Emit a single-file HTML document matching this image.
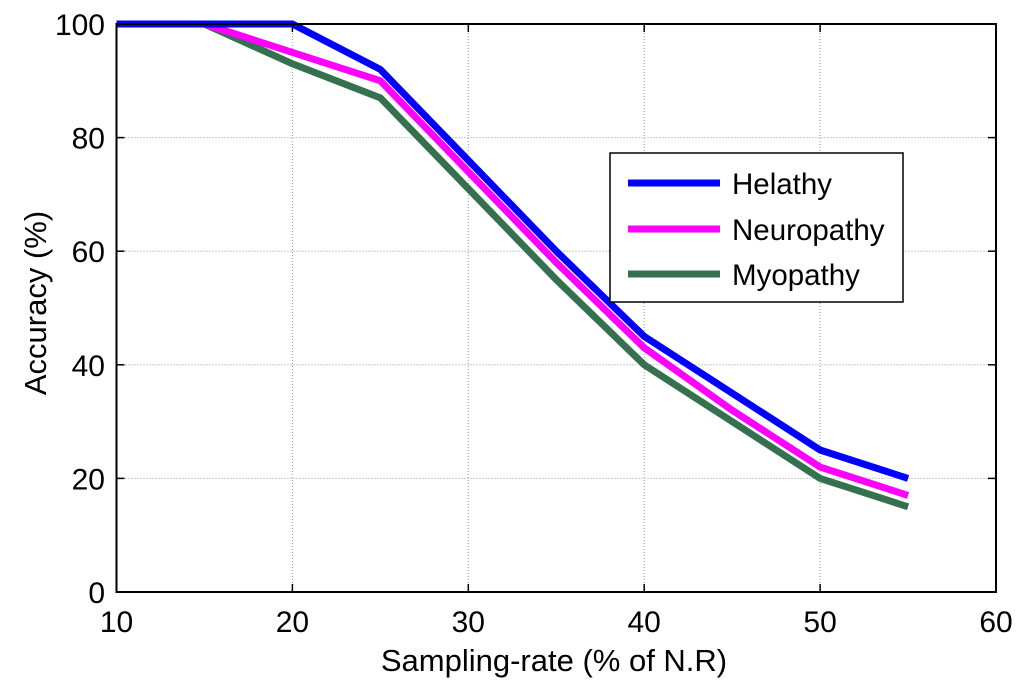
<!DOCTYPE html>
<html><head><meta charset="utf-8"><style>
body{margin:0;background:#fff}
text{font-family:"Liberation Sans",sans-serif;fill:#000}
</style></head><body>
<svg id="chart" width="1024" height="691" viewBox="0 0 1024 691" xmlns="http://www.w3.org/2000/svg">
<rect width="1024" height="691" fill="#fff"/>
<g id="grid"></g>
<g id="series"></g>
<rect x="116.5" y="24" width="879.5" height="568" fill="none" stroke="#000" stroke-width="2"/>
<g id="ticks"></g>
<text x="554" y="671" font-size="31" text-anchor="middle">Sampling-rate (% of N.R)</text>
<text transform="translate(46,303) rotate(-90)" font-size="31" text-anchor="middle">Accuracy (%)</text>
<g>
<rect x="610" y="153" width="293" height="149" fill="#fff" stroke="#000" stroke-width="1.5"/>
<line x1="628" y1="183" x2="720" y2="183" stroke="#0000ff" stroke-width="7"/>
<text x="732" y="194" font-size="29.5">Helathy</text>
<line x1="628" y1="229" x2="720" y2="229" stroke="#ff00ff" stroke-width="7"/>
<text x="732" y="240" font-size="29.5">Neuropathy</text>
<line x1="628" y1="274" x2="720" y2="274" stroke="#35704f" stroke-width="7"/>
<text x="732" y="285" font-size="29.5">Myopathy</text>
</g>
</svg>
<script>
const xVals=[10,15,20,25,30,35,40,45,50,55];
const healthy=[100,100,100,92,76,60,45,35,25,20];
const neuropathy=[100,100,95,90,74,58,43,32,22,17];
const myopathy=[100,100,93,87,71,55,40,30,20,15];
const xTicks=[10,20,30,40,50,60];
const yTicks=[0,20,40,60,80,100];
const L=116.5,R=996,T=24,B=592;
const sx=v=>L+(v-10)/50*(R-L);
const sy=v=>B-v/100*(B-T);
const NS="http://www.w3.org/2000/svg";
const grid=document.getElementById('grid'),ticks=document.getElementById('ticks'),ser=document.getElementById('series');
function mk(tag,attrs,parent){const e=document.createElementNS(NS,tag);for(const k in attrs)e.setAttribute(k,attrs[k]);parent.appendChild(e);return e;}
xTicks.forEach(t=>{const x=sx(t);
 if(t>10&&t<60){const g=mk('line',{x1:x,x2:x,y1:T,y2:B,stroke:'#999','stroke-width':1,'stroke-dasharray':'1,2'},grid);
 
 mk('line',{x1:x,x2:x,y1:B,y2:B-8,stroke:'#000','stroke-width':1.5},ticks);mk('line',{x1:x,x2:x,y1:T,y2:T+8,stroke:'#000','stroke-width':1.5},ticks);}
 const tx=mk('text',{x:x,y:632,'font-size':30,'text-anchor':'middle'},ticks);tx.textContent=t;
 });
yTicks.forEach(t=>{const y=sy(t);
 if(t>0&&t<100){const g=mk('line',{x1:L,x2:R,y1:y,y2:y,stroke:'#999','stroke-width':1,'stroke-dasharray':'1,2'},grid);
 
 mk('line',{x1:L,x2:L+8,y1:y,y2:y,stroke:'#000','stroke-width':1.5},ticks);mk('line',{x1:R,x2:R-8,y1:y,y2:y,stroke:'#000','stroke-width':1.5},ticks);}
 const tx=mk('text',{x:105,y:y+11,'font-size':30,'text-anchor':'end'},ticks);tx.textContent=t;
 });
[[healthy,'#0000ff','healthy-line'],[neuropathy,'#ff00ff','neuropathy-line'],[myopathy,'#35704f','myopathy-line']].reverse().forEach(([d,c,n])=>{
 const p=mk('polyline',{points:d.map((v,i)=>sx(xVals[i])+','+sy(v)).join(' '),fill:'none',stroke:c,'stroke-width':7,'stroke-linejoin':'miter'},ser);
 
 });
</script>
</body></html>
